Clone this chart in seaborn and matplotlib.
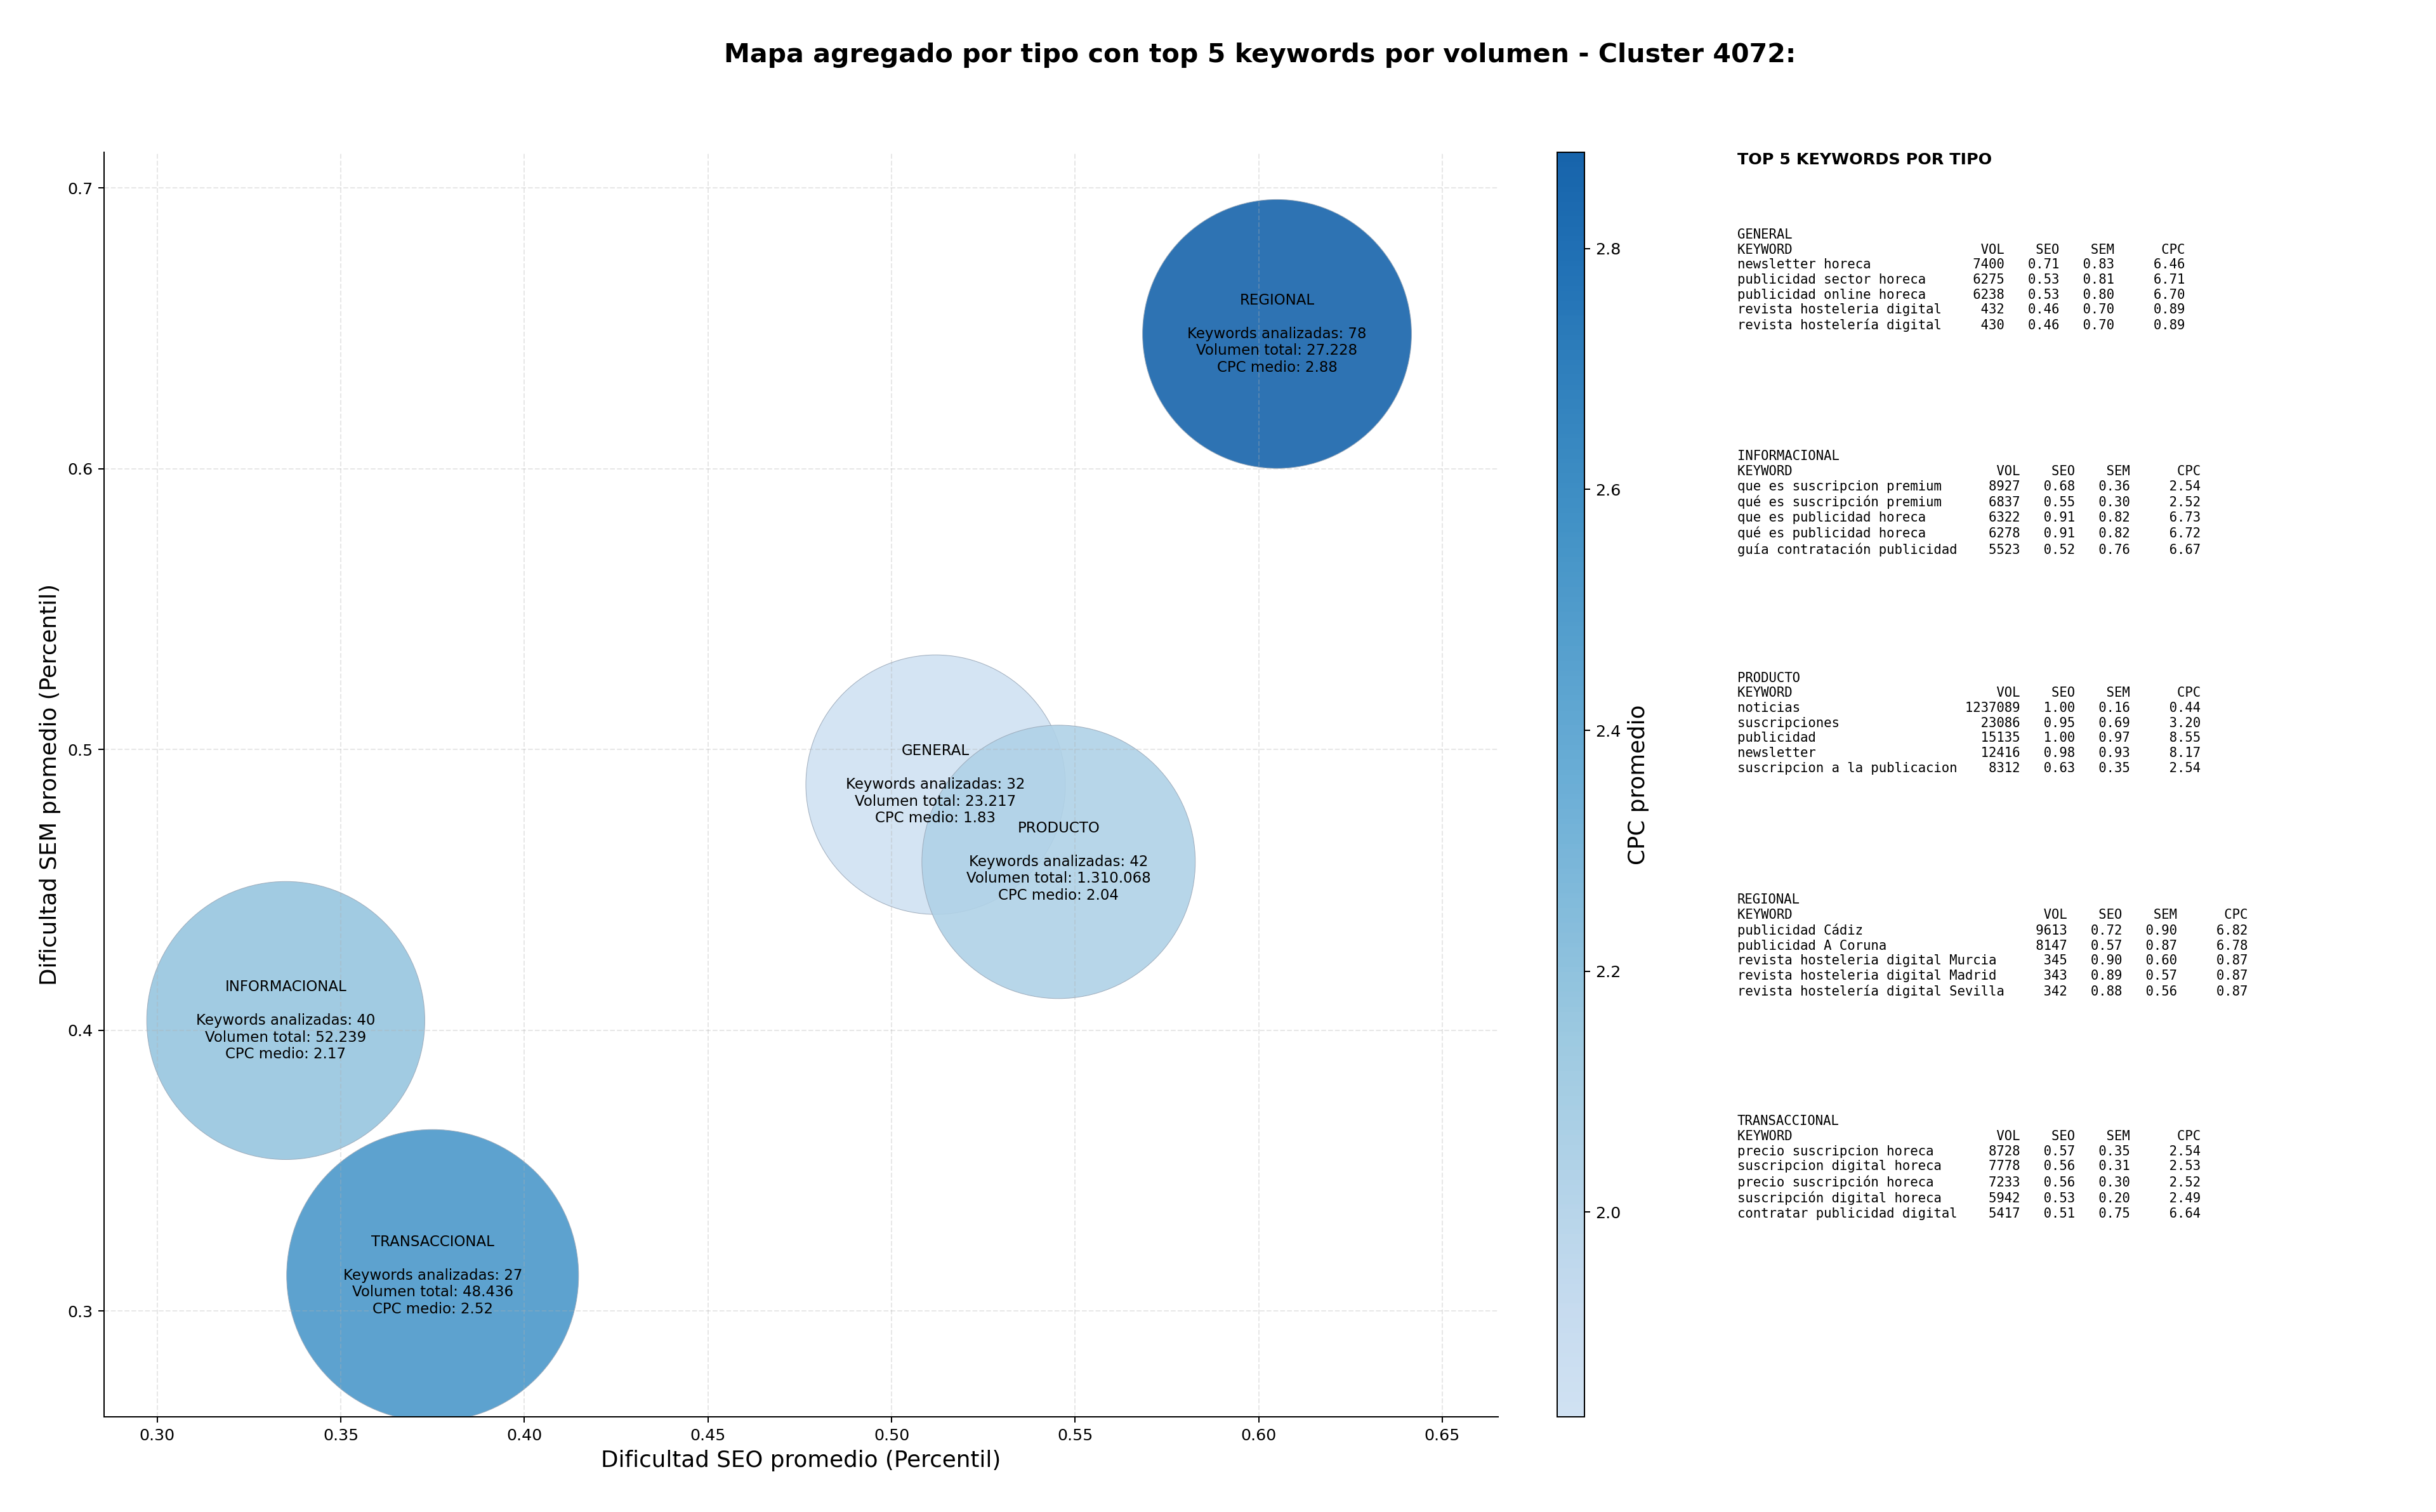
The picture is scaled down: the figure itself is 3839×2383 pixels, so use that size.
import numpy as np
import pandas as pd
import seaborn as sns
import matplotlib.pyplot as plt
import matplotlib.colors as mcolors

# Datos agregados por tipo
tipos = ["GENERAL", "INFORMACIONAL", "PRODUCTO", "REGIONAL", "TRANSACCIONAL"]
seo_medio = [0.512, 0.335, 0.5455, 0.605, 0.375]
sem_medio = [0.4875, 0.4035, 0.460, 0.648, 0.3127]
n_keywords = [32, 40, 42, 78, 27]
volumen_total = [23217, 52239, 1310068, 27228, 48436]
cpc_medio = [1.83, 2.17, 2.04, 2.88, 2.52]
peso_burbuja = [4.18, 4.80, 4.64, 4.49, 5.29]  # area relativa de cada burbuja

# Top 5 keywords por tipo: [VOL, SEO, SEM, CPC]
general_kw = ["newsletter horeca", "publicidad sector horeca", "publicidad online horeca",
              "revista hosteleria digital", "revista hostelería digital"]
general_vals = [[7400, 0.71, 0.83, 6.46], [6275, 0.53, 0.81, 6.71], [6238, 0.53, 0.80, 6.70],
                [432, 0.46, 0.70, 0.89], [430, 0.46, 0.70, 0.89]]

informacional_kw = ["que es suscripcion premium", "qué es suscripción premium", "que es publicidad horeca",
                    "qué es publicidad horeca", "guía contratación publicidad"]
informacional_vals = [[8927, 0.68, 0.36, 2.54], [6837, 0.55, 0.30, 2.52], [6322, 0.91, 0.82, 6.73],
                      [6278, 0.91, 0.82, 6.72], [5523, 0.52, 0.76, 6.67]]

producto_kw = ["noticias", "suscripciones", "publicidad", "newsletter", "suscripcion a la publicacion"]
producto_vals = [[1237089, 1.00, 0.16, 0.44], [23086, 0.95, 0.69, 3.20], [15135, 1.00, 0.97, 8.55],
                 [12416, 0.98, 0.93, 8.17], [8312, 0.63, 0.35, 2.54]]

regional_kw = ["publicidad Cádiz", "publicidad A Coruna", "revista hosteleria digital Murcia",
               "revista hosteleria digital Madrid", "revista hostelería digital Sevilla"]
regional_vals = [[9613, 0.72, 0.90, 6.82], [8147, 0.57, 0.87, 6.78], [345, 0.90, 0.60, 0.87],
                 [343, 0.89, 0.57, 0.87], [342, 0.88, 0.56, 0.87]]

transaccional_kw = ["precio suscripcion horeca", "suscripcion digital horeca", "precio suscripción horeca",
                    "suscripción digital horeca", "contratar publicidad digital"]
transaccional_vals = [[8728, 0.57, 0.35, 2.54], [7778, 0.56, 0.31, 2.53], [7233, 0.56, 0.30, 2.52],
                      [5942, 0.53, 0.20, 2.49], [5417, 0.51, 0.75, 6.64]]

secciones = [("GENERAL", general_kw, general_vals),
             ("INFORMACIONAL", informacional_kw, informacional_vals),
             ("PRODUCTO", producto_kw, producto_vals),
             ("REGIONAL", regional_kw, regional_vals),
             ("TRANSACCIONAL", transaccional_kw, transaccional_vals)]

df = pd.DataFrame({
    "tipo": tipos, "seo": seo_medio, "sem": sem_medio, "n": n_keywords,
    "volumen": volumen_total, "cpc": cpc_medio, "peso": peso_burbuja,
})

DPI = 183
fig = plt.figure(figsize=(3840 / DPI, 2383 / DPI), dpi=DPI)
ax = fig.add_axes([0.0427, 0.0630, 0.5721, 0.8363])
cax = fig.add_axes([0.639, 0.0630, 0.0112, 0.8363])

# Blues recortado (sin extremos)
cmap = mcolors.LinearSegmentedColormap.from_list("blues_mid", plt.cm.Blues(np.linspace(0.2, 0.8, 256)))
norm = mcolors.Normalize(vmin=min(cpc_medio), vmax=max(cpc_medio))

escala = 6192  # pt^2 por unidad de peso
sns.scatterplot(data=df, x="seo", y="sem", hue="cpc", palette=cmap, hue_norm=norm,
                size="peso", sizes=(min(peso_burbuja) * escala, max(peso_burbuja) * escala),
                size_norm=(min(peso_burbuja), max(peso_burbuja)),
                alpha=0.9, edgecolor="#9aa8b8", linewidth=0.4, legend=False, ax=ax)

for _, r in df.iterrows():
    vol = f"{r['volumen']:,}".replace(",", ".")
    txt = f"{r['tipo']}\n\nKeywords analizadas: {r['n']}\nVolumen total: {vol}\nCPC medio: {r['cpc']:.2f}"
    ax.text(r["seo"], r["sem"], txt, ha="center", va="center", fontsize=9, zorder=5)

ax.set_xlim(0.2855, 0.6652)
ax.set_ylim(0.2624, 0.7127)
ax.grid(True, linestyle="--", alpha=0.3)
ax.set_xlabel("Dificultad SEO promedio (Percentil)", fontsize=14)
ax.set_ylabel("Dificultad SEM promedio (Percentil)", fontsize=14)
ax.tick_params(labelsize=10)
sns.despine(ax=ax)

sm = plt.cm.ScalarMappable(cmap=cmap, norm=norm)
cb = fig.colorbar(sm, cax=cax)
cb.set_label("CPC promedio", fontsize=14)
cb.ax.tick_params(labelsize=10)

fig.suptitle("Mapa agregado por tipo con top 5 keywords por volumen - Cluster 4072:",
             fontsize=16.2, fontweight="bold", x=0.517, y=0.972, va="top")

# Panel de texto con top keywords
fig.text(0.713, 0.8993, "TOP 5 KEYWORDS POR TIPO", fontsize=10, fontweight="bold", va="top")
y0 = 0.849
for i, (nombre, kws, vals) in enumerate(secciones):
    w = max(len(k) for k in kws)
    lineas = [nombre, f"{'KEYWORD':<{w}} {'VOL':>7} {'SEO':>6} {'SEM':>6} {'CPC':>8}"]
    for k, (v, s, m, c) in zip(kws, vals):
        lineas.append(f"{k:<{w}} {v:>7} {s:>6.2f} {m:>6.2f} {c:>8.2f}")
    fig.text(0.713, y0 - i * 0.1466, "\n".join(lineas), family="DejaVu Sans Mono",
             fontsize=8.1, linespacing=1.23, va="top")

fig.savefig("out.png", dpi=DPI)
